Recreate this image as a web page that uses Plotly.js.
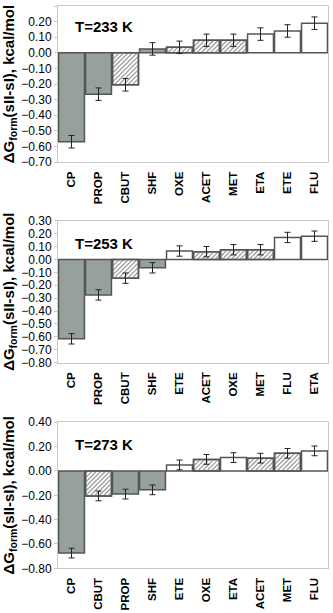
<!DOCTYPE html>
<html>
<head>
<meta charset="utf-8">
<script src="https://cdn.plot.ly/plotly-3.0.1.min.js"></script>
<style>
  html, body { margin: 0; padding: 0; background: #fff; }
  #graph { width: 333px; height: 613px; }
</style>
</head>
<body>
<div id="graph"></div>
<script>
// panel 1, T=233 K
const cats233 = ["CP", "PROP", "CBUT", "SHF", "OXE", "ACET", "MET", "ETA", "ETE", "FLU"];
const vals233 = [-0.57, -0.265, -0.205, 0.025, 0.035, 0.08, 0.08, 0.12, 0.14, 0.19];
const errs233 = [0.04, 0.04, 0.04, 0.04, 0.04, 0.04, 0.04, 0.04, 0.04, 0.04];
const kind233 = ["g", "g", "h", "g", "h", "h", "h", "w", "w", "w"];

// panel 2, T=253 K
const cats253 = ["CP", "PROP", "CBUT", "SHF", "ETE", "ACET", "OXE", "MET", "FLU", "ETA"];
const vals253 = [-0.615, -0.275, -0.145, -0.065, 0.065, 0.06, 0.075, 0.075, 0.17, 0.18];
const errs253 = [0.04, 0.04, 0.04, 0.04, 0.04, 0.04, 0.04, 0.04, 0.04, 0.04];
const kind253 = ["g", "g", "h", "g", "w", "h", "h", "h", "w", "w"];

// panel 3, T=273 K
const cats273 = ["CP", "CBUT", "PROP", "SHF", "ETE", "OXE", "ETA", "ACET", "MET", "FLU"];
const vals273 = [-0.675, -0.205, -0.19, -0.155, 0.05, 0.095, 0.11, 0.105, 0.145, 0.165];
const errs273 = [0.04, 0.04, 0.04, 0.04, 0.04, 0.04, 0.04, 0.04, 0.04, 0.04];
const kind273 = ["g", "h", "g", "g", "w", "h", "w", "h", "h", "w"];

const kinds = [kind233, kind253, kind273];

const GRAY = "#97a19c";
const EDGE = "#555555";
const AXIS = "#c8c8c8";
const HATCH = "#a0a0a0";
const FAM = "Liberation Sans, Arial, sans-serif";
const font = { family: FAM, size: 12, color: "#000" };
const bold = { family: FAM, size: 11.5, color: "#000", weight: "bold" };

function barTrace(cats, vals, errs, kind, n) {
  return {
    type: "bar",
    x: cats,
    y: vals,
    xaxis: "x" + (n === 1 ? "" : n),
    yaxis: "y" + (n === 1 ? "" : n),
    marker: {
      color: kind.map(k => (k === "g" ? GRAY : "#ffffff")),
      line: { color: EDGE, width: 1.5 }
    },
    error_y: { type: "data", array: errs, visible: true, color: "#222", thickness: 1, width: 3 },
    hoverinfo: "skip",
    showlegend: false
  };
}

function xAxis(anchor) {
  return {
    anchor: anchor,
    tickangle: -90,
    tickfont: bold,
    showline: true,
    linecolor: AXIS,
    mirror: true,
    ticks: "outside",
    ticklen: 4,
    tickcolor: "rgba(0,0,0,0)",
    showgrid: false,
    zeroline: false,
    fixedrange: true
  };
}

function yAxis(anchor, domain, range, dtick) {
  return {
    anchor: anchor,
    domain: domain,
    range: range,
    dtick: dtick,
    tickformat: ".2f",
    tickfont: font,
    ticks: "outside",
    ticklen: 3,
    tickcolor: AXIS,
    showline: true,
    linecolor: AXIS,
    mirror: true,
    showgrid: false,
    zeroline: false,
    title: { text: "<b>ΔG<sub>form</sub>(sII-sI), kcal/mol</b>", font: { family: FAM, size: 15, color: "#000" }, standoff: 3 }
  };
}

const data = [
  barTrace(cats233, vals233, errs233, kind233, 1),
  barTrace(cats253, vals253, errs253, kind253, 2),
  barTrace(cats273, vals273, errs273, kind273, 3)
];

function label(text, n, y) {
  const s = n === 1 ? "" : n;
  return {
    text: "<b>" + text + "</b>",
    xref: "x" + s + " domain",
    yref: "y" + s + " domain",
    x: 0.055,
    y: y,
    xanchor: "left",
    yanchor: "middle",
    showarrow: false,
    font: { family: FAM, size: 15, color: "#000" }
  };
}

const layout = {
  width: 333,
  height: 613,
  margin: { l: 58, r: 5, t: 0, b: 0 },
  bargap: 0.04,
  paper_bgcolor: "#fff",
  plot_bgcolor: "#fff",
  xaxis: xAxis("y"),
  xaxis2: xAxis("y2"),
  xaxis3: xAxis("y3"),
  yaxis: yAxis("x", [0.7357, 0.9902], [-0.7, 0.3], 0.1),
  yaxis2: yAxis("x2", [0.4083, 0.64], [-0.8, 0.3], 0.1),
  yaxis3: yAxis("x3", [0.0729, 0.3111], [-0.8, 0.4], 0.2),
  annotations: [label("T=233 K", 1, 0.87), label("T=253 K", 2, 0.836), label("T=273 K", 3, 0.85)]
};

// diagonal hatching drawn over the bars plotly placed
const SVGNS = "http://www.w3.org/2000/svg";
function hatch(path) {
  const b = path.getBBox();
  const x0 = b.x, x1 = b.x + b.width, y0 = b.y, y1 = b.y + b.height;
  const g = path.parentNode;
  const step = 4.5;
  for (let c = x0 + y0 + step / 2; c < x1 + y1; c += step) {
    const xa = Math.max(x0, c - y1), xb = Math.min(x1, c - y0);
    if (xb <= xa) continue;
    const ln = document.createElementNS(SVGNS, "line");
    ln.setAttribute("x1", xa);
    ln.setAttribute("y1", c - xa);
    ln.setAttribute("x2", xb);
    ln.setAttribute("y2", c - xb);
    ln.setAttribute("stroke", HATCH);
    ln.setAttribute("stroke-width", "1.3");
    g.appendChild(ln);
  }
  const edge = path.cloneNode(true);
  edge.style.fill = "none";
  g.appendChild(edge);
}

Plotly.newPlot("graph", data, layout, { staticPlot: true, displayModeBar: false }).then(function (gd) {
  const traces = gd.querySelectorAll(".barlayer .trace");
  traces.forEach(function (tr, t) {
    const pts = tr.querySelectorAll(".point");
    pts.forEach(function (pt, i) {
      if (kinds[t][i] === "h") hatch(pt.querySelector("path"));
    });
  });
});
</script>
</body>
</html>
